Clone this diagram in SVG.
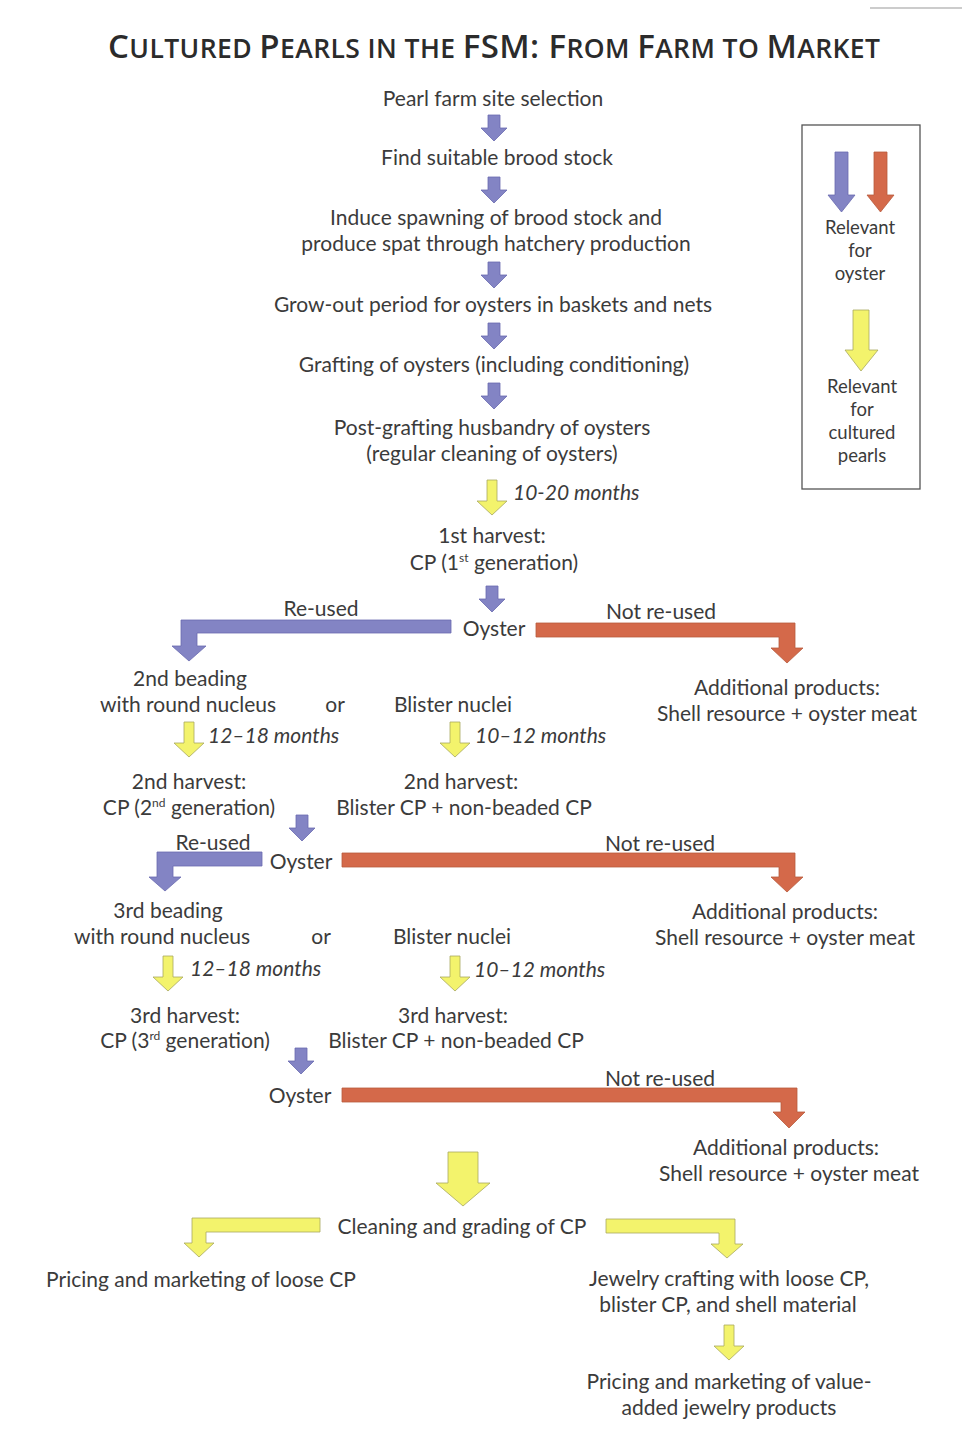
<svg xmlns="http://www.w3.org/2000/svg" width="962" height="1443" viewBox="0 0 962 1443">
<style>
.t{font-family:Lato,"Open Sans",sans-serif;font-size:21px;fill:#3b3b3b;text-anchor:middle}
.i{font-style:italic;text-anchor:start}
.lg{font-size:18.5px}
.sup{font-size:12px}
.ttl{font-family:"Open Sans",Lato,sans-serif;fill:#2b2b2b;font-weight:600}
.b{fill:#8384c4;stroke:#6a6bb0;stroke-width:.8}
.r{fill:#d4694a;stroke:#b85a3e;stroke-width:.8}
.y{fill:#f3f36c;stroke:#a8a860;stroke-width:.8}
</style>
<defs>
<path id="ab" d="M-6,0H6V13H13L0,26L-13,13H-6Z"/>
<path id="ay" d="M-5,0H5V21H15L0,35L-15,21H-5Z"/>
</defs>
<rect width="962" height="1443" fill="#ffffff"/>
<line x1="870" y1="8" x2="962" y2="8" stroke="#999" stroke-width="1"/>

<text id="title" class="ttl" x="108" y="58" textLength="772" lengthAdjust="spacing"><tspan font-size="33">C</tspan><tspan font-size="26.5">ULTURED </tspan><tspan font-size="33">P</tspan><tspan font-size="26.5">EARLS IN THE </tspan><tspan font-size="33">FSM: F</tspan><tspan font-size="26.5">ROM </tspan><tspan font-size="33">F</tspan><tspan font-size="26.5">ARM TO </tspan><tspan font-size="33">M</tspan><tspan font-size="26.5">ARKET</tspan></text>

<g id="legend">
<rect x="802" y="125" width="118" height="364" fill="none" stroke="#555" stroke-width="1.3"/>
<path class="b" d="M835,152H848V195H855L841.5,212L828,195H835Z"/>
<path class="r" d="M874,152H887V195H894L880.5,212L867,195H874Z"/>
<text class="t lg" x="860" y="234">Relevant</text>
<text class="t lg" x="860" y="257">for</text>
<text class="t lg" x="860" y="280">oyster</text>
<path class="y" d="M853,310H869V350H878L861,371L845,350H853Z"/>
<text class="t lg" x="862" y="393">Relevant</text>
<text class="t lg" x="862" y="416">for</text>
<text class="t lg" x="862" y="439">cultured</text>
<text class="t lg" x="862" y="462">pearls</text>
</g>

<g id="n1"><text class="t" x="493" y="106">Pearl farm site selection</text></g>
<g id="n2"><text class="t" x="497" y="165">Find suitable brood stock</text></g>
<g id="n3"><text class="t" x="496" y="225">Induce spawning of brood stock and</text><text class="t" x="496" y="251">produce spat through hatchery production</text></g>
<g id="n4"><text class="t" x="493" y="312">Grow-out period for oysters in baskets and nets</text></g>
<g id="n5"><text class="t" x="494" y="372">Grafting of oysters (including conditioning)</text></g>
<g id="n6"><text class="t" x="492" y="435">Post-grafting husbandry of oysters</text><text class="t" x="492" y="461">(regular cleaning of oysters)</text></g>
<g id="n7"><text class="t" x="492" y="543">1st harvest:</text><text class="t" x="494" y="570">CP (1<tspan class="sup" dy="-8">st</tspan><tspan dy="8"> generation)</tspan></text></g>
<g id="n8"><text class="t" x="494" y="636">Oyster</text></g>
<g id="n9"><text class="t" x="190" y="686">2nd beading</text><text class="t" x="188" y="712">with round nucleus</text></g>
<g id="or1"><text class="t" x="335" y="712">or</text></g>
<g id="n10"><text class="t" x="453" y="712">Blister nuclei</text></g>
<g id="n11"><text class="t" x="787" y="695">Additional products:</text><text class="t" x="787" y="721">Shell resource + oyster meat</text></g>
<g id="n12"><text class="t" x="189" y="789">2nd harvest:</text><text class="t" x="189" y="815">CP (2<tspan class="sup" dy="-8">nd</tspan><tspan dy="8"> generation)</tspan></text></g>
<g id="n13"><text class="t" x="461" y="789">2nd harvest:</text><text class="t" x="464" y="815">Blister CP + non-beaded CP</text></g>
<g id="n14"><text class="t" x="301" y="869">Oyster</text></g>
<g id="n15"><text class="t" x="168" y="918">3rd beading</text><text class="t" x="162" y="944">with round nucleus</text></g>
<g id="or2"><text class="t" x="321" y="944">or</text></g>
<g id="n16"><text class="t" x="452" y="944">Blister nuclei</text></g>
<g id="n17"><text class="t" x="785" y="919">Additional products:</text><text class="t" x="785" y="945">Shell resource + oyster meat</text></g>
<g id="n18"><text class="t" x="185" y="1023">3rd harvest:</text><text class="t" x="185" y="1048">CP (3<tspan class="sup" dy="-8">rd</tspan><tspan dy="8"> generation)</tspan></text></g>
<g id="n19"><text class="t" x="453" y="1023">3rd harvest:</text><text class="t" x="456" y="1048">Blister CP + non-beaded CP</text></g>
<g id="n20"><text class="t" x="300" y="1103">Oyster</text></g>
<g id="n21"><text class="t" x="786" y="1155">Additional products:</text><text class="t" x="789" y="1181">Shell resource + oyster meat</text></g>
<g id="n22"><text class="t" x="462" y="1234">Cleaning and grading of CP</text></g>
<g id="n23"><text class="t" x="201" y="1287">Pricing and marketing of loose CP</text></g>
<g id="n24"><text class="t" x="729" y="1286">Jewelry crafting with loose CP,</text><text class="t" x="728" y="1312">blister CP, and shell material</text></g>
<g id="n25"><text class="t" x="729" y="1389">Pricing and marketing of value-</text><text class="t" x="729" y="1415">added jewelry products</text></g>

<g id="connectors">
<use href="#ab" class="b" x="494" y="115"/>
<use href="#ab" class="b" x="494" y="177"/>
<use href="#ab" class="b" x="494" y="262"/>
<use href="#ab" class="b" x="494" y="323"/>
<use href="#ab" class="b" x="494" y="383"/>
<use href="#ay" class="y" x="492" y="480"/>
<text class="t i" x="513" y="500">10-20 months</text>
<use href="#ab" class="b" x="492" y="586"/>
<path class="b" d="M451,620V633H197V646H206L189,661L172,646H181V620Z"/>
<text class="t" x="321" y="616">Re-used</text>
<path class="r" d="M536,623H795V648H803L787,663L771,648H779V637H536Z"/>
<text class="t" x="661" y="619">Not re-used</text>
<use href="#ay" class="y" x="189" y="722"/>
<text class="t i" x="208" y="743">12–18 months</text>
<use href="#ay" class="y" x="455" y="722"/>
<text class="t i" x="475" y="743">10–12 months</text>
<use href="#ab" class="b" x="302" y="815"/>
<path class="b" d="M262,852V866H173V877H181L165,891L149,877H157V852Z"/>
<text class="t" x="213" y="850">Re-used</text>
<path class="r" d="M342,853H795V877H803L787,892L771,877H779V867H342Z"/>
<text class="t" x="660" y="851">Not re-used</text>
<use href="#ay" class="y" x="168" y="956"/>
<text class="t i" x="190" y="976">12–18 months</text>
<use href="#ay" class="y" x="455" y="956"/>
<text class="t i" x="474" y="977">10–12 months</text>
<use href="#ab" class="b" x="301" y="1048"/>
<path class="r" d="M342,1088H797V1112H805L789,1128L773,1112H781V1102H342Z"/>
<text class="t" x="660" y="1086">Not re-used</text>
<path class="y" d="M448,1152H478V1183H490L463,1206L436,1183H448Z"/>
<path class="y" d="M320,1218V1232H206V1243H214L199,1257L184,1243H192V1218Z"/>
<path class="y" d="M606,1219H735V1244H743L727,1258L711,1244H719V1233H606Z"/>
<use href="#ay" class="y" x="729" y="1325"/>
</g>
</svg>
